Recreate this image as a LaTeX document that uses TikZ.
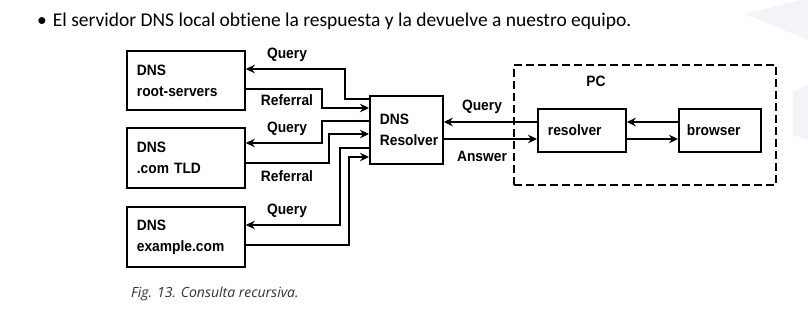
\documentclass[tikz,border=0pt]{standalone}
\usepackage{fontspec}
\setmainfont{Carlito}[Ligatures={NoCommon,NoRare,NoDiscretionary}]
\newfontfamily\diagfont{Liberation Sans}[FakeStretch=0.92]
\newfontfamily\capfont{Open Sans}
\usetikzlibrary{arrows.meta}
\definecolor{wm}{HTML}{F3F4F7}
\definecolor{captxt}{HTML}{333333}
\begin{document}
\begin{tikzpicture}[x=1pt,y=-1pt,
  box/.style={draw, line width=1.8pt, inner xsep=10pt, inner ysep=0pt, align=left,
    anchor=north west, font=\diagfont\bfseries\fontsize{15}{21}\selectfont},
  lbl/.style={font=\diagfont\bfseries\fontsize{15}{18}\selectfont, inner sep=0pt},
  conn/.style={line width=1.6pt, line join=miter, -{Stealth[length=9pt,width=8.5pt,inset=3pt]}}]
\useasboundingbox (0,0) rectangle (808,316);
\fill[white] (0,0) rectangle (808,316);
% faint watermark
\fill[wm] (745,14) -- (800,0) -- (808,0) -- (808,40) -- cycle;
\fill[wm] (793,92) -- (808,85) -- (808,140) -- (793,135) -- cycle;
% title
\node[anchor=base west, inner sep=0pt, font=\fontsize{19.5}{22}\selectfont] (title) at (37,26)
  {\textbullet\hspace{6pt}El servidor DNS local obtiene la respuesta y la devuelve a nuestro equipo.};
% boxes
\node[box, text width=98pt, minimum height=59pt] (root) at (126,50) {DNS\\root-servers};
\node[box, text width=98pt, minimum height=60pt] (tld) at (126,127) {DNS\\.com TLD};
\node[box, text width=98pt, minimum height=60pt] (ex) at (126,206) {DNS\\example.com};
\node[box, text width=53pt, minimum height=68pt] (res) at (369,95) {DNS\\Resolver};
\node[draw, dash pattern=on 8pt off 4pt, line width=1.8pt, minimum width=262pt,
  minimum height=120pt, anchor=north west, inner sep=0pt] (pc) at (513,64) {};
\node[lbl] (pclbl) at (596,81) {PC};
\node[box, text width=68pt, minimum height=43pt] (pcres) at (537,108) {resolver};
\node[box, inner xsep=8pt, text width=66pt, minimum height=43pt] (brw) at (678,108) {browser};
% connectors
\draw[conn] (res.west |- 0,99) -| (345,69) -- (root.east |- 0,69);
\draw[conn] (root.east |- 0,89) -| (322,108) -- (res.west |- 0,108);
\draw[conn] (res.west |- 0,121) -| (322,143) -- (tld.east |- 0,143);
\draw[conn] (tld.east |- 0,163) -| (329,134) -- (res.west |- 0,134);
\draw[conn] (res.west |- 0,148) -| (340,225) -- (ex.east |- 0,225);
\draw[conn] (ex.east |- 0,245) -| (349,157) -- (res.west |- 0,157);
\draw[conn] (pcres.west |- 0,122) -- (res.east |- 0,122);
\draw[conn] (res.east |- 0,139) -- (pcres.west |- 0,139);
\draw[conn] (brw.west |- 0,122) -- (pcres.east |- 0,122);
\draw[conn] (pcres.east |- 0,139) -- (brw.west |- 0,139);
% labels
\node[lbl] (l1) at (287,55) {Query};
\node[lbl] (l2) at (287,100) {Referral};
\node[lbl] (l3) at (287,129) {Query};
\node[lbl] (l4) at (287,176) {Referral};
\node[lbl] (l5) at (287,211) {Query};
\node[lbl] (l6) at (482,107) {Query};
\node[lbl] (l7) at (482,156) {Answer};
% caption
\node[anchor=base west, inner sep=0pt, text=captxt, font=\capfont\itshape\fontsize{14}{16}\selectfont] (cap) at (131,297)
  {Fig. 13. Consulta recursiva.};
\end{tikzpicture}
\end{document}
